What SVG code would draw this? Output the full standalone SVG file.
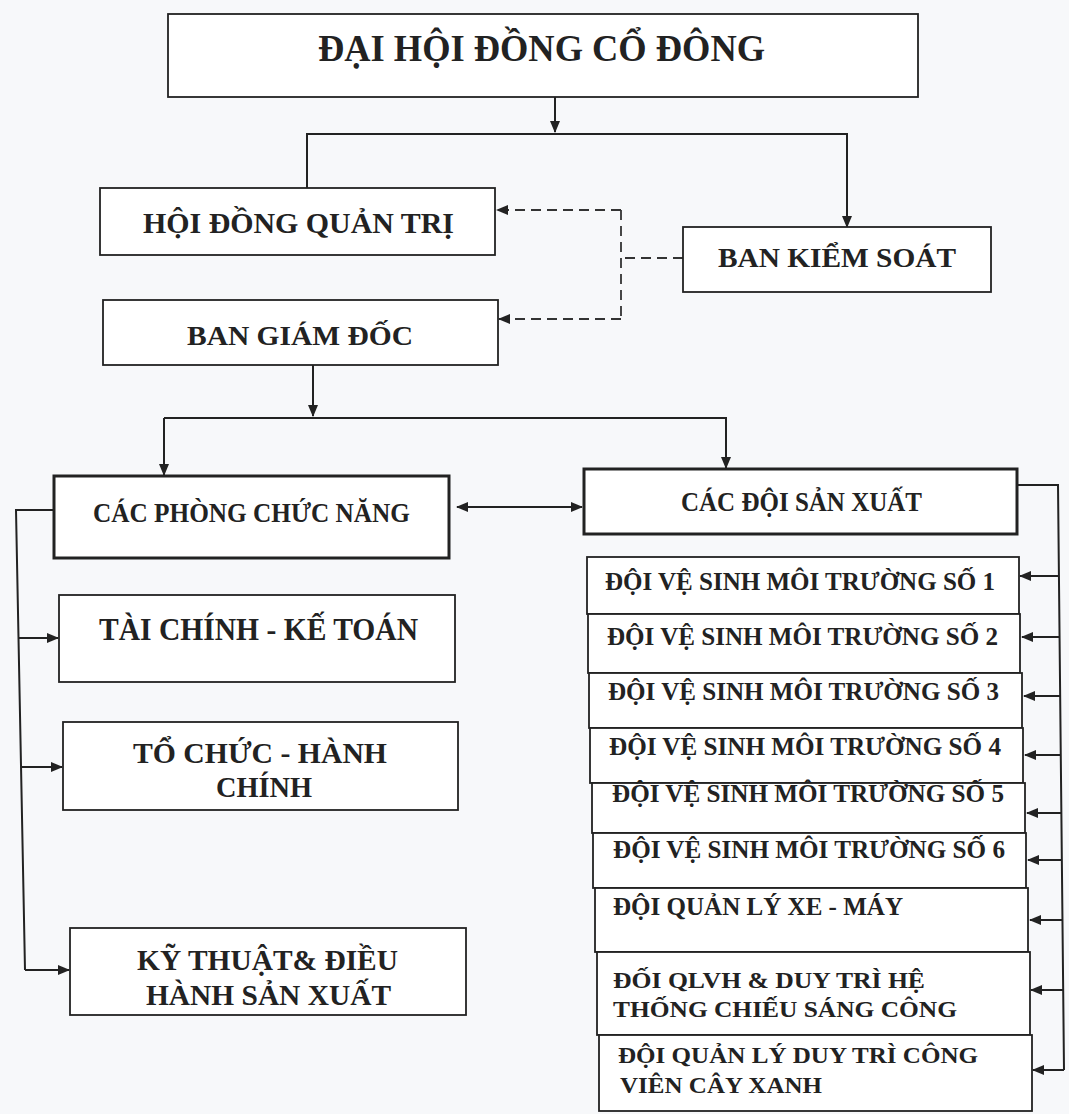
<svg xmlns="http://www.w3.org/2000/svg" width="1069" height="1114" viewBox="0 0 1069 1114">
<defs>
<style>
.box{fill:#fff;stroke:#222;stroke-width:1.8}
.thick{fill:#fff;stroke:#222;stroke-width:3}
.t{font-family:"Liberation Serif","Times New Roman",serif;font-weight:bold;fill:#222}
.ln{fill:none;stroke:#222;stroke-width:2}
.ds{fill:none;stroke:#333;stroke-width:1.8;stroke-dasharray:10 6}
</style>
<marker id="ah" markerWidth="12" markerHeight="10" refX="11" refY="5" orient="auto" markerUnits="userSpaceOnUse">
<path d="M0,0 L12,5 L0,10 Z" fill="#222"/>
</marker>
<marker id="ahs" markerWidth="12" markerHeight="10" refX="1" refY="5" orient="auto" markerUnits="userSpaceOnUse">
<path d="M12,0 L0,5 L12,10 Z" fill="#222"/>
</marker>
</defs>
<rect width="1069" height="1114" fill="#f7f8fa"/>

<g id="connectors">
<path class="ln" d="M555,97 V132" marker-end="url(#ah)"/>
<path class="ln" d="M307,188 V134 H847 V227" marker-end="url(#ah)"/>
<path class="ds" d="M683,258 H621"/>
<path class="ds" d="M621,210 V319"/>
<path class="ds" d="M621,210 H497" marker-end="url(#ah)"/>
<path class="ds" d="M621,319 H499" marker-end="url(#ah)"/>
<path class="ln" d="M313,365 V416" marker-end="url(#ah)"/>
<path class="ln" d="M164,418 H726 V468" marker-end="url(#ah)"/>
<path class="ln" d="M164,418 V475" marker-end="url(#ah)"/>
<path class="ln" d="M457,507 H582" marker-start="url(#ahs)" marker-end="url(#ah)"/>
<path class="ln" d="M54,510 H16 L25,970"/>
<path class="ln" d="M18.5,638 H58" marker-end="url(#ah)"/>
<path class="ln" d="M21,767 H62" marker-end="url(#ah)"/>
<path class="ln" d="M25,970 H69" marker-end="url(#ah)"/>
<path class="ln" d="M1017,485 H1058 L1064,1070"/>
<path class="ln" d="M1059,576 H1020" marker-end="url(#ah)"/>
<path class="ln" d="M1059,637 H1022" marker-end="url(#ah)"/>
<path class="ln" d="M1060,696 H1024" marker-end="url(#ah)"/>
<path class="ln" d="M1060,755 H1025" marker-end="url(#ah)"/>
<path class="ln" d="M1061,813 H1027" marker-end="url(#ah)"/>
<path class="ln" d="M1061,860 H1028" marker-end="url(#ah)"/>
<path class="ln" d="M1062,920 H1030" marker-end="url(#ah)"/>
<path class="ln" d="M1063,990 H1031" marker-end="url(#ah)"/>
<path class="ln" d="M1064,1070 H1033" marker-end="url(#ah)"/>
</g>

<g id="dhdcd"><rect class="box" x="168" y="14" width="750" height="83"/><text class="t" x="318" y="61" font-size="38" textLength="447" lengthAdjust="spacingAndGlyphs">ĐẠI HỘI ĐỒNG CỔ ĐÔNG</text></g>
<g id="hdqt"><rect class="box" x="100" y="188" width="395" height="67"/><text class="t" x="143" y="233" font-size="30" textLength="311" lengthAdjust="spacingAndGlyphs">HỘI ĐỒNG QUẢN TRỊ</text></g>
<g id="bks"><rect class="box" x="683" y="227" width="308" height="65"/><text class="t" x="718" y="267" font-size="28" textLength="238" lengthAdjust="spacingAndGlyphs">BAN KIỂM SOÁT</text></g>
<g id="bgd"><rect class="box" x="103" y="300" width="395" height="65"/><text class="t" x="187" y="345" font-size="28" textLength="226" lengthAdjust="spacingAndGlyphs">BAN GIÁM ĐỐC</text></g>
<g id="cpcn"><rect class="thick" x="54" y="476" width="395" height="82"/><text class="t" x="93" y="522" font-size="27" textLength="317" lengthAdjust="spacingAndGlyphs">CÁC PHÒNG CHỨC NĂNG</text></g>
<g id="cdsx"><rect class="thick" x="584" y="469" width="433" height="65"/><text class="t" x="681" y="511" font-size="27" textLength="241" lengthAdjust="spacingAndGlyphs">CÁC ĐỘI SẢN XUẤT</text></g>
<g id="tckt"><rect class="box" x="59" y="595" width="396" height="87"/><text class="t" x="99" y="640" font-size="31" textLength="319" lengthAdjust="spacingAndGlyphs">TÀI CHÍNH - KẾ TOÁN</text></g>
<g id="tchc"><rect class="box" x="63" y="722" width="395" height="88"/><text class="t" x="133" y="763" font-size="30" textLength="254" lengthAdjust="spacingAndGlyphs">TỔ CHỨC - HÀNH</text><text class="t" x="216" y="797" font-size="30" textLength="96" lengthAdjust="spacingAndGlyphs">CHÍNH</text></g>
<g id="ktdh"><rect class="box" x="70" y="928" width="396" height="87"/><text class="t" x="137" y="970" font-size="30" textLength="261" lengthAdjust="spacingAndGlyphs">KỸ THUẬT&amp; ĐIỀU</text><text class="t" x="146" y="1005" font-size="30" textLength="245" lengthAdjust="spacingAndGlyphs">HÀNH SẢN XUẤT</text></g>

<g id="doi1"><rect class="box" x="587" y="557" width="432" height="57"/><text class="t" x="605" y="590" font-size="26" textLength="390" lengthAdjust="spacingAndGlyphs">ĐỘI VỆ SINH MÔI TRƯỜNG SỐ 1</text></g>
<g id="doi2"><rect class="box" x="588" y="614" width="432" height="59"/><text class="t" x="607" y="645" font-size="26" textLength="391" lengthAdjust="spacingAndGlyphs">ĐỘI VỆ SINH MÔI TRƯỜNG SỐ 2</text></g>
<g id="doi3"><rect class="box" x="589" y="673" width="433" height="55"/><text class="t" x="608" y="700" font-size="26" textLength="391" lengthAdjust="spacingAndGlyphs">ĐỘI VỆ SINH MÔI TRƯỜNG SỐ 3</text></g>
<g id="doi4"><rect class="box" x="590" y="728" width="433" height="55"/><text class="t" x="609" y="755" font-size="26" textLength="392" lengthAdjust="spacingAndGlyphs">ĐỘI VỆ SINH MÔI TRƯỜNG SỐ 4</text></g>
<g id="doi5"><rect class="box" x="592" y="783" width="433" height="50"/><text class="t" x="612" y="802" font-size="26" textLength="392" lengthAdjust="spacingAndGlyphs">ĐỘI VỆ SINH MÔI TRƯỜNG SỐ 5</text></g>
<g id="doi6"><rect class="box" x="593" y="833" width="433" height="55"/><text class="t" x="613" y="858" font-size="26" textLength="392" lengthAdjust="spacingAndGlyphs">ĐỘI VỆ SINH MÔI TRƯỜNG SỐ 6</text></g>
<g id="doi7"><rect class="box" x="595" y="888" width="433" height="64"/><text class="t" x="613" y="915" font-size="26" textLength="290" lengthAdjust="spacingAndGlyphs">ĐỘI QUẢN LÝ XE - MÁY</text></g>
<g id="doi8"><rect class="box" x="597" y="952" width="433" height="83"/><text class="t" x="613" y="988" font-size="24" textLength="312" lengthAdjust="spacingAndGlyphs">ĐỐI QLVH &amp; DUY TRÌ HỆ</text><text class="t" x="613" y="1017" font-size="24" textLength="344" lengthAdjust="spacingAndGlyphs">THỐNG CHIẾU SÁNG CÔNG</text></g>
<g id="doi9"><rect class="box" x="599" y="1035" width="433" height="76"/><text class="t" x="618" y="1063" font-size="24" textLength="360" lengthAdjust="spacingAndGlyphs">ĐỘI QUẢN LÝ DUY TRÌ CÔNG</text><text class="t" x="620" y="1093" font-size="24" textLength="202" lengthAdjust="spacingAndGlyphs">VIÊN CÂY XANH</text></g>
</svg>
